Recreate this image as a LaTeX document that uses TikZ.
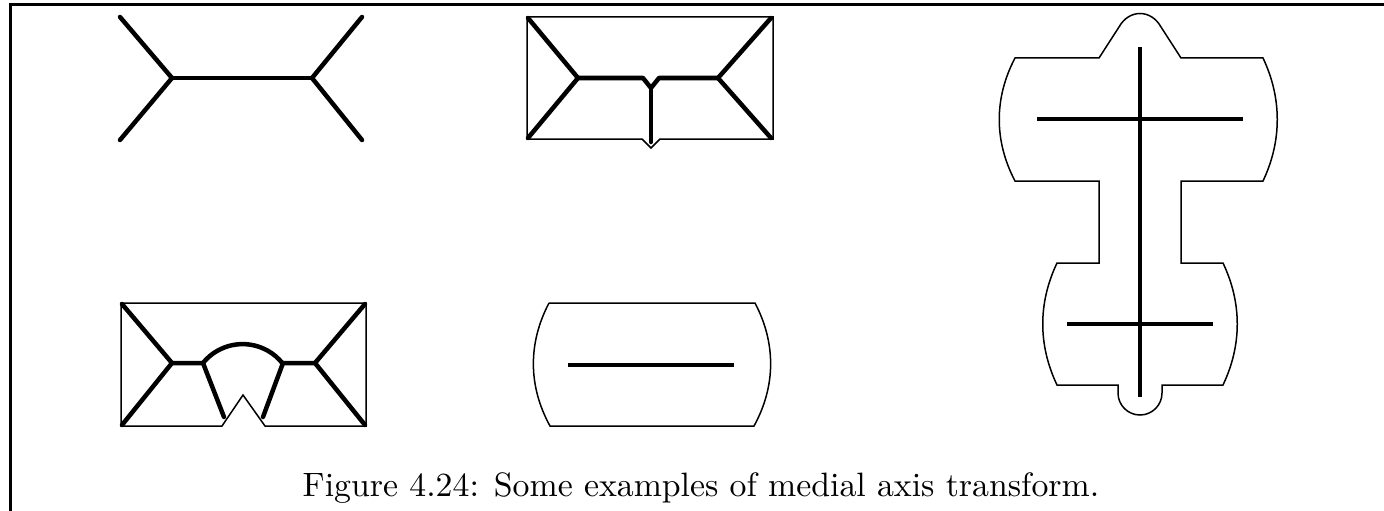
\documentclass[tikz,border=0pt]{standalone}
\usepackage{tikz}
\usetikzlibrary{calc}

\begin{document}
\begin{tikzpicture}[
    x=1pt, y=-1pt,
    outline/.style={draw=black, line width=1.5pt, line join=miter},
    medial/.style={draw=black, line width=4.5pt, line cap=round, line join=round},
    spine/.style={draw=black, line width=3.2pt, line cap=butt},
    frameline/.style={draw=black, line width=3pt},
    caption/.style={inner sep=0pt, anchor=base},
]
\useasboundingbox (0,0) rectangle (1384,511);

% ── Frame ──
\draw[frameline] (10,511) -- (10,5) -- (1384,5);

% ── Example 1: open medial axis ──
\coordinate (a1l) at (172,78);
\coordinate (a1r) at (312,78);
\draw[medial] (120,17) -- (a1l) -- (120,140);
\draw[medial] (362,17) -- (a1r) -- (362,140);
\draw[medial] (a1l) -- (a1r);

% ── Example 2: rectangle with small notch ──
\draw[outline] (527,17) -- (773,17) -- (773,139) -- (660,139)
    -- (651,148) -- (642,139) -- (527,139) -- cycle;
\coordinate (b2l) at (578,78);
\coordinate (b2r) at (718,78);
\coordinate (b2m) at (651,88);
\draw[medial] (528,18) -- (b2l) -- (528,138);
\draw[medial] (771,18) -- (b2r) -- (771,138);
\draw[medial] (b2l) -- (643,78) -- (b2m) -- (659,78) -- (b2r);
\draw[medial] (b2m) -- (651,142);

% ── Example 3: rectangle with deep notch ──
\draw[outline] (121,303) -- (366,303) -- (366,426) -- (265,426)
    -- (243,395) -- (222,426) -- (121,426) -- cycle;
\coordinate (c3l) at (172,363);
\coordinate (c3r) at (315,363);
\coordinate (c3a) at (203,363);
\coordinate (c3b) at (283,363);
\draw[medial] (122,304) -- (c3l) -- (122,425);
\draw[medial] (365,304) -- (c3r) -- (365,425);
\draw[medial] (c3l) -- (c3a) arc[start angle=-141, end angle=-39, radius=51] -- (c3r);
\draw[medial] (c3a) -- (224,417);
\draw[medial] (c3b) -- (263,417);

% ── Example 4: curved sides ──
\draw[outline] (549,303) -- (755,303)
    .. controls (776,343) and (776,386) .. (754,426)
    -- (550,426)
    .. controls (528,386) and (528,343) .. (549,303);
\draw[medial, line cap=butt] (568,365) -- (734,365);

% ── Example 5: cross shape ──
\draw[outline] (1099,58) -- (1119,27)
    .. controls (1129,9) and (1151,9) .. (1161,27)
    -- (1181,58) -- (1263,58)
    .. controls (1282,98) and (1282,141) .. (1263,181)
    -- (1181,181) -- (1181,263) -- (1223,263)
    .. controls (1242,303) and (1242,345) .. (1223,385)
    -- (1162,385) -- (1162,393)
    arc[start angle=0, end angle=180, radius=22]
    -- (1118,385) -- (1057,385)
    .. controls (1038,345) and (1038,303) .. (1057,263)
    -- (1099,263) -- (1099,181) -- (1015,181)
    .. controls (994,141) and (994,98) .. (1015,58)
    -- cycle;
\draw[spine] (1140,47) -- (1140,397);
\draw[medial, line cap=butt] (1037,119) -- (1243,119);
\draw[medial, line cap=butt] (1067,324) -- (1213,324);

% ── Caption ──
\node[caption] (cap) at (701,496)
    {\scalebox{3.38}{\fontsize{10}{12}\selectfont Figure 4.24: Some examples of medial axis transform.}};

\end{tikzpicture}
\end{document}
